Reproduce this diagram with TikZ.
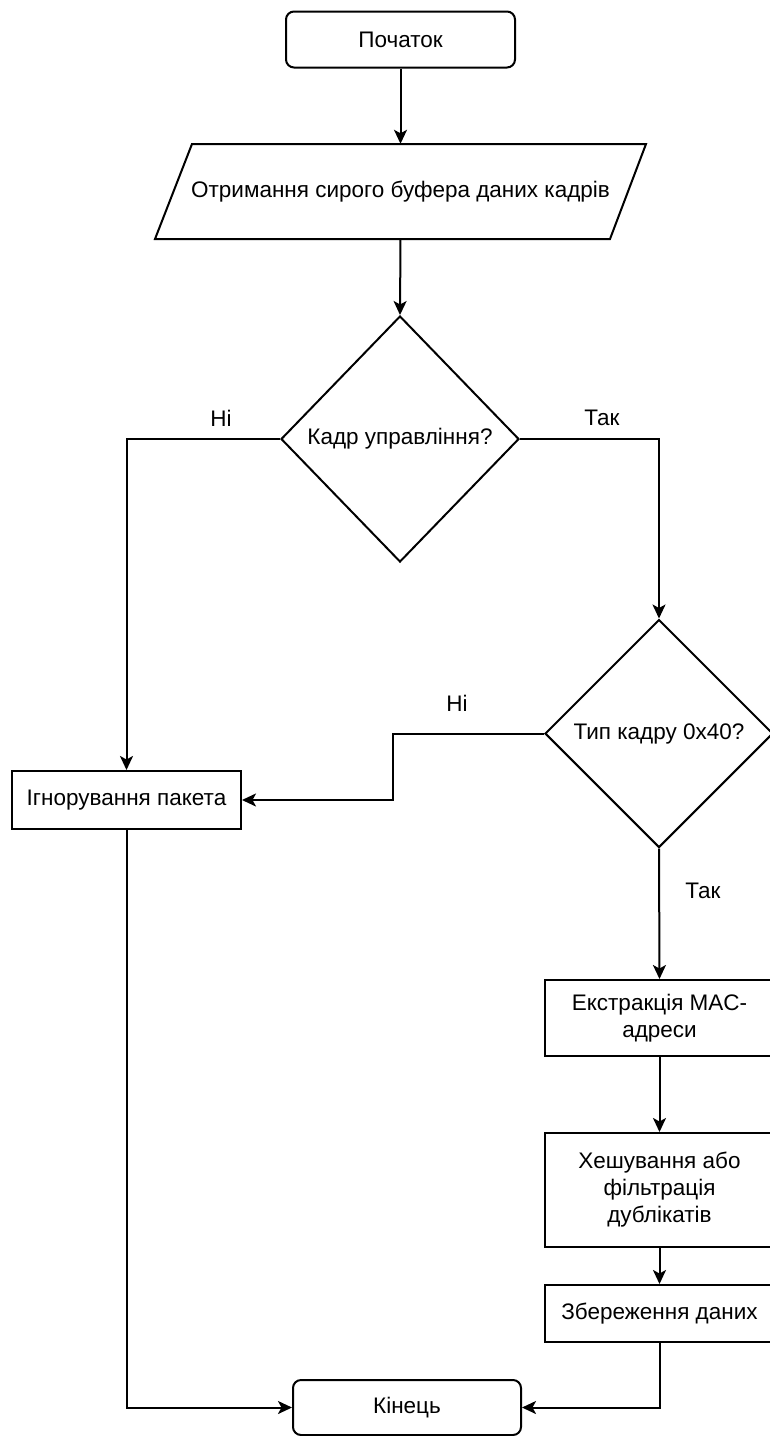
\documentclass[tikz,border=0pt]{standalone}
\usepackage{fontspec}
\setmainfont{Liberation Sans}
\usetikzlibrary{shapes.geometric,arrows.meta}
\begin{document}
\begin{tikzpicture}[x=1pt,y=-1pt,
  every node/.style={font=\fontsize{22.5}{27}\selectfont, text=black},
  base/.style={draw=black, line width=2pt, inner sep=0pt, align=center},
  procbox/.style={base, rectangle, minimum width=229pt},
  termbox/.style={base, rectangle, rounded corners=8pt, minimum width=229pt, minimum height=56pt},
  decision/.style={base, diamond},
  outline/.style={draw=black, line width=2pt},
  conn/.style={line width=2pt, -{Stealth[length=14pt,width=13pt,inset=3.5pt]}},
  lbl/.style={inner sep=0pt}]
\useasboundingbox (0,0) rectangle (770,1436);
\clip (0,0) rectangle (770,1436);
\fill[white] (0,0) rectangle (770,1436);

% nodes
\node[termbox] (start) at (400.5,39.5) {Початок};
\draw[outline] (192,144) -- (646,144) -- (610,239) -- (155,239) -- cycle;
\node[inner sep=0pt, minimum width=420pt, minimum height=95pt] (para) at (400.5,191.5) {Отримання сирого буфера даних кадрів};
\node[decision, minimum width=238pt, minimum height=246pt] (d1) at (400,439) {Кадр управління?};
\node[decision, minimum width=228pt, minimum height=228pt] (d2) at (659,733.5) {Тип кадру 0x40?};
\node[procbox, minimum height=58pt] (ignore) at (126.5,800) {Ігнорування пакета};
\node[procbox, minimum height=76pt] (mac) at (659.5,1018) {Екстракція MAC-\\адреси};
\node[procbox, minimum height=114pt] (hash) at (659.5,1190) {Хешування або\\фільтрація\\дублікатів};
\node[procbox, minimum height=57pt] (save) at (659.5,1313.5) {Збереження даних};
\node[termbox, minimum width=228pt, minimum height=55pt] (end) at (407,1407.5) {Кінець};

% labels
\node[lbl] (l1) at (221,418) {Ні};
\node[lbl] (l2) at (602,418) {Так};
\node[lbl] (l3) at (457,703) {Ні};
\node[lbl] (l4) at (703,891) {Так};

% connectors
\coordinate (k) at (393,733.5);
\draw[conn] (start.south) -- (para.north);
\draw[conn] (para.south) -- (d1.north);
\draw[conn] (d1.west) -| (ignore.north);
\draw[conn] (d1.east) -| (d2.north);
\draw[conn] (d2.west) -- (k) |- (ignore.east);
\draw[conn] (d2.south) -- (mac.north);
\draw[conn] (mac.south) -- (hash.north);
\draw[conn] (hash.south) -- (save.north);
\draw[conn] (save.south) |- (end.east);
\draw[conn] (ignore.south) |- (end.west);
\end{tikzpicture}
\end{document}
